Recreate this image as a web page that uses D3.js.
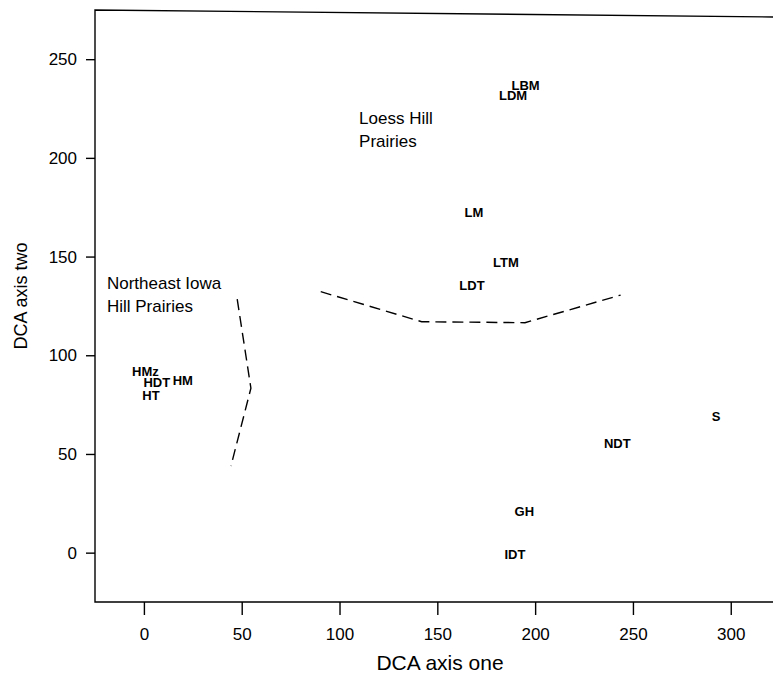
<!DOCTYPE html>
<html>
<head>
<meta charset="utf-8">
<script src="https://cdn.jsdelivr.net/npm/d3@7"></script>
<style>
  html, body { margin: 0; padding: 0; background: #fff; }
  svg { display: block; font-family: "Liberation Sans", Arial, Helvetica, sans-serif; }
</style>
</head>
<body>
<svg id="chart" width="773" height="681"></svg>
<script>
// ---- data ----
const siteLabels = ["LBM", "LDM", "LM", "LTM", "LDT", "HMz", "HDT", "HM", "HT", "S", "NDT", "GH", "IDT"];
const axisOne = [195.1, 188.7, 168.7, 185.1, 167.7, 0.8, 6.6, 19.9, 3.6, 292.5, 242.0, 194.5, 189.7];
const axisTwo = [236.9, 231.9, 172.2, 147.3, 135.6, 91.7, 86.1, 87.5, 79.9, 68.9, 55.4, 21.1, -0.7];

const boundaryLoessX = [90.4, 142.0, 194.8, 243.7];
const boundaryLoessY = [132.2, 117.0, 116.5, 130.5];
const boundaryIowaX = [47.7, 54.7, 44.5];
const boundaryIowaY = [128.4, 83.3, 43.9];

const regionNames = [["Loess Hill", "Prairies"], ["Northeast Iowa", "Hill Prairies"]];
const regionX = [110, -18.9];
const regionY = [217.4, 133.8];

const xTicks = [0, 50, 100, 150, 200, 250, 300];
const yTicks = [0, 50, 100, 150, 200, 250];
const xTitle = "DCA axis one";
const yTitle = "DCA axis two";

// ---- layout ----
const svg = d3.select("#chart");
const mLeft = 95, mRight = 773, mTop = 12, mBottom = 602;
const x = d3.scaleLinear().domain([-25, 321.6]).range([mLeft, mRight]);
const y = d3.scaleLinear().domain([-25, 273.9]).range([mBottom, mTop]);

// frame
svg.append("path")
  .attr("d", `M${mRight},17 L${mLeft},10 L${mLeft},${mBottom} L${mRight},${mBottom}`)
  .attr("fill", "none").attr("stroke", "#000").attr("stroke-width", 1.4);

// axes
const gx = svg.append("g").attr("transform", `translate(0,${mBottom})`)
  .call(d3.axisBottom(x).tickValues(xTicks).tickSize(13).tickPadding(13).tickFormat(d3.format("d")));
const gy = svg.append("g").attr("transform", `translate(${mLeft},0)`)
  .call(d3.axisLeft(y).tickValues(yTicks).tickSize(9).tickPadding(9).tickFormat(d3.format("d")));
[gx, gy].forEach(g => {
  g.select(".domain").remove();
  g.selectAll(".tick line").attr("stroke", "#000").attr("stroke-width", 1.4);
  g.selectAll(".tick text").attr("fill", "#000")
    .style("font-size", "17px").style("font-family", '"Liberation Sans", Arial, sans-serif');
});

// axis titles
svg.append("text").attr("x", 440).attr("y", 670).attr("text-anchor", "middle")
  .style("font-size", "21px").attr("fill", "#000").text(xTitle);
svg.append("text").attr("transform", "translate(27,296) rotate(-90)").attr("text-anchor", "middle")
  .style("font-size", "18px").attr("fill", "#000").text(yTitle);

// dashed boundaries
const line = d3.line().x(d => x(d[0])).y(d => y(d[1]));
[[boundaryLoessX, boundaryLoessY], [boundaryIowaX, boundaryIowaY]].forEach(([bx, by]) => {
  svg.append("path")
    .datum(bx.map((v, i) => [v, by[i]]))
    .attr("d", line)
    .attr("fill", "none").attr("stroke", "#000").attr("stroke-width", 1.4)
    .attr("stroke-dasharray", "11,6");
});

// region labels
regionNames.forEach((lines, i) => {
  lines.forEach((t, j) => {
    svg.append("text")
      .attr("x", x(regionX[i])).attr("y", y(regionY[i]) + j * 23.5)
      .style("font-size", "17px").attr("fill", "#000").text(t);
  });
});

// site labels
svg.append("g").selectAll("text")
  .data(siteLabels)
  .join("text")
  .attr("x", (d, i) => x(axisOne[i]))
  .attr("y", (d, i) => y(axisTwo[i]))
  .attr("dy", "0.36em")
  .attr("text-anchor", "middle")
  .style("font-size", "13px")
  .style("font-weight", "bold")
  .attr("fill", "#000")
  .text(d => d);
</script>
</body>
</html>
